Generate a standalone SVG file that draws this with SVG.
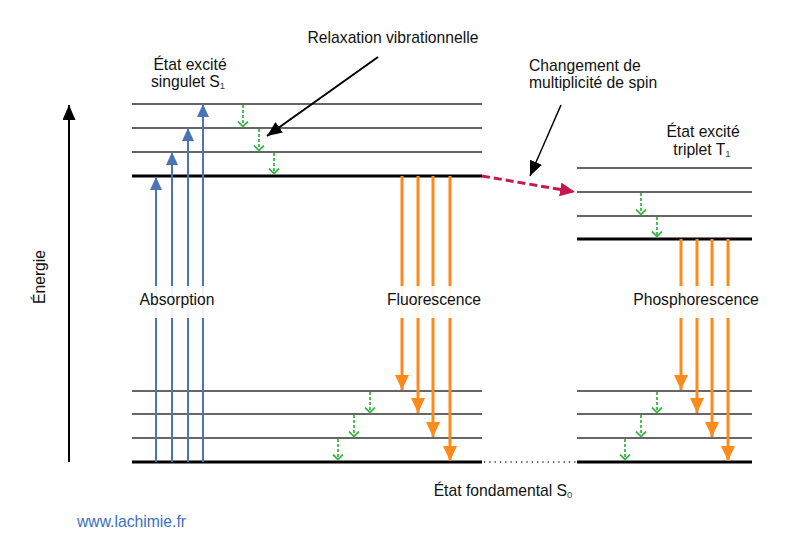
<svg xmlns="http://www.w3.org/2000/svg" width="800" height="536" viewBox="0 0 800 536">
<style>
text{font-family:"Liberation Sans",Arial,sans-serif;font-size:15.7px;fill:#111}
.lvl{stroke:#333;stroke-width:1.3}
.thk{stroke:#000;stroke-width:3}
.blue{stroke:#4a74b4;stroke-width:2}
.org{stroke:#ff8a1c;stroke-width:3}
.grn{stroke:#3db54a;stroke-width:1.8;stroke-dasharray:3 2;fill:none}
.blk{stroke:#000;stroke-width:2}
.halo{fill:#fff;opacity:0.9}
.sub{font-size:9.5px;fill:#444}
</style>
<defs>
<marker id="mb" markerUnits="userSpaceOnUse" markerWidth="14" markerHeight="14" refX="13" refY="6" orient="auto"><path d="M0,0L13,6L0,12Z" fill="#4a74b4"/></marker>
<marker id="mo" markerUnits="userSpaceOnUse" markerWidth="16" markerHeight="16" refX="15" refY="7" orient="auto"><path d="M0,0L15,7L0,14Z" fill="#ff8a1c"/></marker>
<marker id="mg" markerUnits="userSpaceOnUse" markerWidth="12" markerHeight="14" refX="6.5" refY="6" orient="auto"><path d="M1,1L6,6L1,11" fill="none" stroke="#3db54a" stroke-width="1.8"/></marker>
<marker id="mr" markerUnits="userSpaceOnUse" markerWidth="16" markerHeight="16" refX="15" refY="7" orient="auto"><path d="M0,0L15,7L0,14Z" fill="#c8174b"/></marker>
<marker id="mk" markerUnits="userSpaceOnUse" markerWidth="16" markerHeight="14" refX="15" refY="6.5" orient="auto"><path d="M0,0L15,6.5L0,13Z" fill="#000"/></marker>
</defs>

<g id="axis">
<line x1="69" y1="462" x2="69" y2="105" class="blk" marker-end="url(#mk)"/>
<text transform="translate(45,277) rotate(-90)" text-anchor="middle">Énergie</text>
</g>

<g id="S1">
<line x1="132" y1="104" x2="482" y2="104" class="lvl"/>
<line x1="132" y1="128" x2="482" y2="128" class="lvl"/>
<line x1="132" y1="152" x2="482" y2="152" class="lvl"/>
<line x1="132" y1="176" x2="482" y2="176" class="thk"/>
<text x="190" y="70" text-anchor="middle">État excité</text>
<text x="188" y="87" text-anchor="middle">singulet S<tspan class="sub" dy="2">1</tspan></text>
</g>

<g id="S0">
<line x1="132" y1="391" x2="482" y2="391" class="lvl"/>
<line x1="132" y1="414" x2="482" y2="414" class="lvl"/>
<line x1="132" y1="438" x2="482" y2="438" class="lvl"/>
<line x1="132" y1="462" x2="482" y2="462" class="thk"/>
<line x1="577" y1="391" x2="752" y2="391" class="lvl"/>
<line x1="577" y1="414" x2="752" y2="414" class="lvl"/>
<line x1="577" y1="438" x2="752" y2="438" class="lvl"/>
<line x1="577" y1="462" x2="752" y2="462" class="thk"/>
<line x1="484" y1="462" x2="576" y2="462" stroke="#333" stroke-width="1.3" stroke-dasharray="1.3 4"/>
<text x="503" y="496" text-anchor="middle">État fondamental S<tspan class="sub" dy="2">0</tspan></text>
</g>

<g id="T1">
<line x1="577" y1="168" x2="752" y2="168" class="lvl"/>
<line x1="577" y1="192" x2="752" y2="192" class="lvl"/>
<line x1="577" y1="216" x2="752" y2="216" class="lvl"/>
<line x1="577" y1="239" x2="752" y2="239" class="thk"/>
<text x="703" y="137" text-anchor="middle">État excité</text>
<text x="702" y="155" text-anchor="middle">triplet T<tspan class="sub" dy="2">1</tspan></text>
</g>

<g id="connectors">
<line x1="156" y1="462" x2="156" y2="177" class="blue" marker-end="url(#mb)"/>
<line x1="172" y1="462" x2="172" y2="152" class="blue" marker-end="url(#mb)"/>
<line x1="188" y1="462" x2="188" y2="128" class="blue" marker-end="url(#mb)"/>
<line x1="203" y1="462" x2="203" y2="104" class="blue" marker-end="url(#mb)"/>

<line x1="402" y1="176" x2="402" y2="390" class="org" marker-end="url(#mo)"/>
<line x1="418" y1="176" x2="418" y2="413" class="org" marker-end="url(#mo)"/>
<line x1="433" y1="176" x2="433" y2="437" class="org" marker-end="url(#mo)"/>
<line x1="450" y1="176" x2="450" y2="461" class="org" marker-end="url(#mo)"/>

<line x1="681" y1="239" x2="681" y2="390" class="org" marker-end="url(#mo)"/>
<line x1="697" y1="239" x2="697" y2="413" class="org" marker-end="url(#mo)"/>
<line x1="712" y1="239" x2="712" y2="437" class="org" marker-end="url(#mo)"/>
<line x1="728" y1="239" x2="728" y2="461" class="org" marker-end="url(#mo)"/>

<line x1="243" y1="105" x2="243" y2="127" class="grn" marker-end="url(#mg)"/>
<line x1="259" y1="129" x2="259" y2="151" class="grn" marker-end="url(#mg)"/>
<line x1="274" y1="153" x2="274" y2="174" class="grn" marker-end="url(#mg)"/>
<line x1="370" y1="392" x2="370" y2="413" class="grn" marker-end="url(#mg)"/>
<line x1="354" y1="415" x2="354" y2="437" class="grn" marker-end="url(#mg)"/>
<line x1="338" y1="439" x2="338" y2="460" class="grn" marker-end="url(#mg)"/>
<line x1="641" y1="193" x2="641" y2="215" class="grn" marker-end="url(#mg)"/>
<line x1="657" y1="217" x2="657" y2="237" class="grn" marker-end="url(#mg)"/>
<line x1="657" y1="392" x2="657" y2="413" class="grn" marker-end="url(#mg)"/>
<line x1="641" y1="415" x2="641" y2="437" class="grn" marker-end="url(#mg)"/>
<line x1="625" y1="439" x2="625" y2="460" class="grn" marker-end="url(#mg)"/>

<line x1="482" y1="176" x2="575" y2="192" stroke="#c8174b" stroke-width="3" stroke-dasharray="8 4" marker-end="url(#mr)"/>
<line x1="378" y1="57" x2="267" y2="136" class="blk" marker-end="url(#mk)"/>
<line x1="561" y1="105" x2="530" y2="176" stroke="#000" stroke-width="1.5" marker-end="url(#mk)"/>
</g>

<g id="labels">
<rect x="138" y="286" width="78" height="32" class="halo"/>
<text x="177" y="305" text-anchor="middle">Absorption</text>
<rect x="385" y="286" width="98" height="32" class="halo"/>
<text x="434" y="305" text-anchor="middle">Fluorescence</text>
<rect x="631" y="286" width="130" height="32" class="halo"/>
<text x="696" y="305" text-anchor="middle">Phosphorescence</text>
<text x="393" y="43" text-anchor="middle">Relaxation vibrationnelle</text>
<text x="529" y="71">Changement de</text>
<text x="529" y="88">multiplicité de spin</text>
<text x="77" y="527" style="fill:#3a6fc4">www.lachimie.fr</text>
</g>
</svg>
